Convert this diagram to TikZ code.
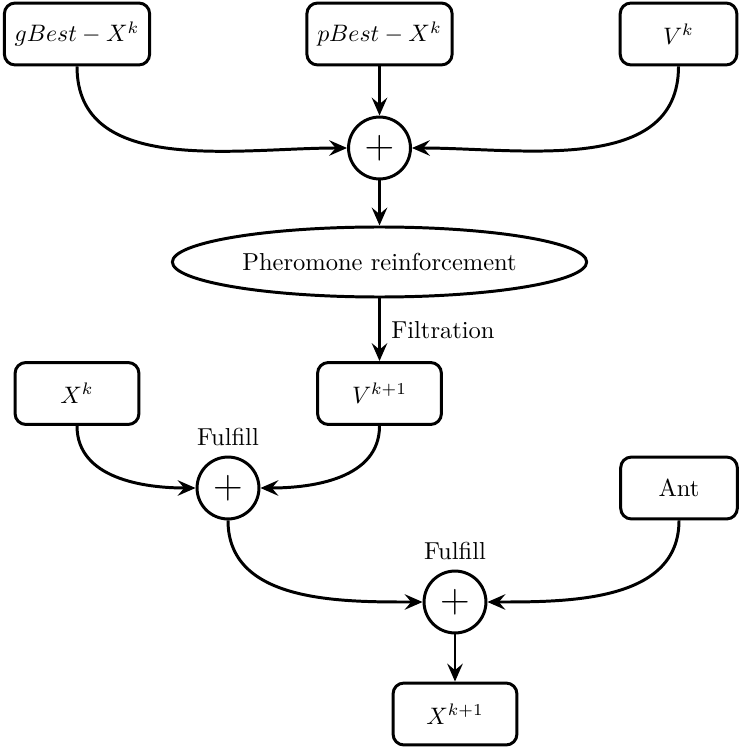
\documentclass[tikz,border=0pt]{standalone}
\usetikzlibrary{arrows.meta,shapes.geometric}
\begin{document}
\begin{tikzpicture}[x=0.42pt,y=-0.42pt,
  every node/.style={font=\fontsize{10.3}{12.4}\selectfont},
  box/.style={draw,line width=1.25pt,rounded corners=4.5pt,minimum height=26pt,inner sep=0pt},
  sum/.style={draw,circle,line width=1.25pt,minimum size=26pt,inner sep=0pt,font=\fontsize{17}{17}\selectfont},
  phero/.style={draw,ellipse,line width=1.25pt,minimum width=174pt,minimum height=29.4pt,inner sep=0pt},
  flow/.style={line width=1.25pt,-{Stealth[length=7.5pt,width=6.5pt,inset=2.7pt]}}]
\useasboundingbox (0,0) rectangle (738,749);

% input boxes
\node[box,minimum width=61pt] (gb) at (77,34) {$gBest-X^k$};
\node[box,minimum width=61pt] (pb) at (379.5,34) {$pBest-X^k$};
\node[box,minimum width=49pt] (vk) at (678.5,34) {$V^k$};

% first summation and reinforcement
\node[sum] (s1) at (379.5,148) {$+$};
\node[phero] (ph) at (379.5,262) {Pheromone reinforcement};

% second stage
\node[box,minimum width=52pt] (xk) at (77,393.5) {$X^k$};
\node[box,minimum width=52pt] (vk1) at (379.5,393.5) {$V^{k+1}$};
\node[sum,label={[label distance=0.5pt]above:Fulfill}] (s2) at (228,488) {$+$};
\node[box,minimum width=49pt] (ant) at (679,488) {Ant};
\node[sum,label={[label distance=0.5pt]above:Fulfill}] (s3) at (455,602) {$+$};
\node[box,minimum width=52pt] (xk1) at (455,714) {$X^{k+1}$};

% connectors
\draw[flow] (gb.south) to[out=-90,in=180] (s1.west);
\draw[flow] (pb.south) -- (s1.north);
\draw[flow] (vk.south) to[out=-90,in=0] (s1.east);
\draw[flow] (s1.south) -- (ph.north);
\draw[flow] (ph.south) -- node[right,xshift=1pt] {Filtration} (vk1.north);
\draw[flow] (xk.south) to[out=-90,in=180] (s2.west);
\draw[flow] (vk1.south) to[out=-90,in=0] (s2.east);
\draw[flow] (s2.south) to[out=-90,in=180] (s3.west);
\draw[flow] (ant.south) to[out=-90,in=0] (s3.east);
\draw[flow] (s3.south) -- (xk1.north);
\end{tikzpicture}
\end{document}
